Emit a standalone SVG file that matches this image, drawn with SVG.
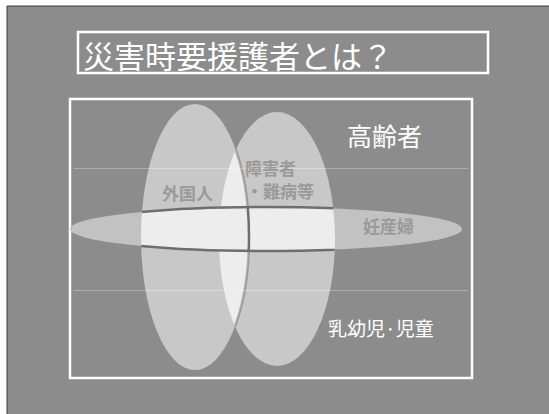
<svg xmlns="http://www.w3.org/2000/svg" width="549" height="414" viewBox="0 0 549 414">
  <style>
    .jp { font-family: "Noto Sans CJK JP", "Noto Sans CJK SC", sans-serif; }
    .white { fill: #ffffff; }
    .inner { fill: #9a9a9a; font-weight: bold; font-size: 17px; }
    .oval { fill: #c8c8c8; }
    .bright { fill: #ededed; }
    .edge { fill: none; stroke: #6e6e6e; stroke-width: 2.5; }
    .frame { fill: none; stroke: #ffffff; stroke-width: 2.5; }
  </style>
  <defs>
    <clipPath id="clipLeft"><ellipse cx="195" cy="237" rx="54" ry="133"/></clipPath>
    <clipPath id="clipBoth">
      <ellipse cx="195" cy="237" rx="54" ry="133"/>
      <ellipse cx="277" cy="239" rx="58" ry="127"/>
    </clipPath>
    <clipPath id="clipRight"><ellipse cx="277" cy="239" rx="58" ry="127"/></clipPath>
    <clipPath id="clipBand"><ellipse cx="266" cy="229" rx="196" ry="22"/></clipPath>
  </defs>

  <!-- page -->
  <rect x="0" y="0" width="549" height="414" fill="#ffffff"/>
  <rect x="7" y="6" width="542" height="408" fill="#8c8c8c"/>
  <path d="M7 414 V6 H549" fill="none" stroke="#3c3c3c" stroke-width="1"/>

  <g id="title">
    <rect class="frame" x="78" y="32" width="410" height="41" stroke-width="2"/>
    <text class="jp white" x="83" y="68" font-size="31">災害時要援護者とは？</text>
  </g>

  <g id="frame">
    <rect class="frame" x="70" y="99" width="402" height="279"/>
  </g>

  <g id="foreigners">
    <ellipse class="oval" cx="195" cy="237" rx="54" ry="133"/>
  </g>
  <g id="disabled">
    <ellipse class="oval" cx="277" cy="239" rx="58" ry="127"/>
    <ellipse class="bright" cx="277" cy="239" rx="58" ry="127" clip-path="url(#clipLeft)"/>
    <ellipse class="edge" cx="195" cy="237" rx="54" ry="133" clip-path="url(#clipRight)" stroke-width="1.5" opacity="0.5"/>
  </g>
  <g id="pregnant">
    <ellipse fill="#c2c2c2" cx="266" cy="229" rx="196" ry="22"/>
    <ellipse class="bright" cx="266" cy="229" rx="196" ry="22" clip-path="url(#clipBoth)"/>
    <ellipse class="edge" cx="266" cy="229" rx="196" ry="22" clip-path="url(#clipBoth)"/>
    <g clip-path="url(#clipBand)">
      <ellipse class="edge" cx="195" cy="237" rx="54" ry="133" clip-path="url(#clipRight)"/>
    </g>
  </g>

  <!-- faint guide lines -->
  <g id="guides" stroke="#ffffff" stroke-opacity="0.3" stroke-width="1">
    <line x1="74" y1="168.5" x2="468" y2="168.5"/>
    <line x1="74" y1="290.5" x2="468" y2="290.5"/>
  </g>

  <g id="labels">
    <text class="jp inner" x="162" y="200">外国人</text>
    <text class="jp inner" x="245" y="175">障害者</text>
    <text class="jp inner" x="246" y="198">・難病等</text>
    <text class="jp inner" x="363" y="233">妊産婦</text>
  </g>

  <g id="elderly">
    <text class="jp white" x="347" y="146" font-size="25">高齢者</text>
  </g>
  <g id="infants">
    <text class="jp white" x="328" y="336" font-size="19">乳幼児·児童</text>
  </g>

  <g id="connectors"/>
</svg>
